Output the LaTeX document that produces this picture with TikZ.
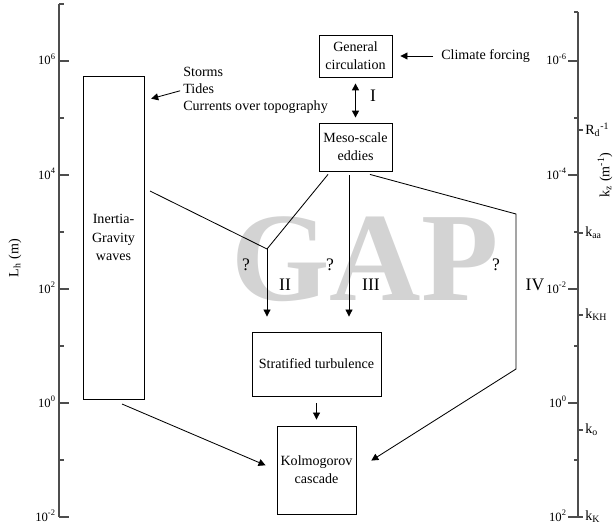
\documentclass[tikz,border=0pt]{standalone}
\usepackage{fontspec}
\setmainfont{Liberation Serif}
\usetikzlibrary{arrows.meta, positioning, calc}
\definecolor{axisgray}{HTML}{4D4D4D}
\definecolor{markgray}{HTML}{D3D3D3}

\begin{document}
\begin{tikzpicture}[
    x=0.025cm, y=-0.025cm,
    >={Triangle[length=5pt, width=5pt]},
    box/.style={rectangle, draw, line width=0.6pt, align=center, inner sep=1pt, font=\fontsize{10}{13}\selectfont},
    txt/.style={inner sep=0pt, align=left, font=\fontsize{10}{12}\selectfont},
    roman/.style={inner sep=0pt, font=\fontsize{12.5}{14}\selectfont},
    axis/.style={draw=axisgray, line width=0.9pt},
    ticklbl/.style={inner sep=0pt, anchor=base east, font=\fontsize{9}{10}\selectfont},
    klbl/.style={inner sep=0pt, anchor=west, font=\fontsize{10}{12}\selectfont},
    flow/.style={line width=0.6pt}
]
\useasboundingbox (0,0) rectangle (615,531);

% Watermark
\node[anchor=base, text=markgray, inner sep=0pt, font=\fontsize{90}{90}\selectfont\bfseries] (mark) at (365,300) {GAP};

% Left axis
\draw[axis] (59,4) -- (59,517);
\foreach \i in {-1,...,8} {
  \pgfmathtruncatemacro{\ypos}{61+57*\i}
  \ifodd\i
    \draw[axis] (59,\ypos) -- (64,\ypos);
  \else
    \pgfmathtruncatemacro{\ex}{6-\i}
    \draw[axis] (59,\ypos) -- (69,\ypos);
    \node[ticklbl] (l\i) at (56,\ypos+4) {10\textsuperscript{\ex}};
  \fi
}
\node[rotate=90, inner sep=0pt, font=\fontsize{10}{12}\selectfont] (lh) at (15,258) {L\textsubscript{h} (m)};

% Right axis
\draw[axis] (578,12) -- (578,517);
\draw[axis] (574,12) -- (578,12);
\foreach \i in {0,...,8} {
  \pgfmathtruncatemacro{\ypos}{61+57*\i}
  \ifodd\i
    \draw[axis] (574,\ypos) -- (578,\ypos);
  \else
    \pgfmathtruncatemacro{\ex}{\i-6}
    \draw[axis] (568,\ypos) -- (578,\ypos);
    \node[ticklbl] (r\i) at (567,\ypos+4) {10\textsuperscript{\ex}};
  \fi
}
\foreach \y/\name/\txt in {130/rd/R\textsubscript{d}\textsuperscript{-1}, 233/kaa/k\textsubscript{aa}, 315/kkh/k\textsubscript{KH}, 430/ko/k\textsubscript{o}, 517/kk/k\textsubscript{K}} {
  \draw[axis] (578,\y) -- (583,\y);
  \node[klbl] (\name) at (585,\y) {\txt};
}
\node[rotate=90, inner sep=0pt, font=\fontsize{10}{12}\selectfont] (kz) at (605,175) {k\textsubscript{z} (m\textsuperscript{-1})};

% Boxes
\node[box, minimum width=1.525cm, minimum height=8.075cm] (igw) at (113.5,237.5) {Inertia-\\Gravity\\waves};
\node[box, minimum width=1.825cm, minimum height=1.05cm] (gen) at (355.5,56) {General\\circulation};
\node[box, minimum width=1.825cm, minimum height=1.2cm] (meso) at (355.5,147) {Meso-scale\\eddies};
\node[box, minimum width=3.225cm, minimum height=1.6cm] (strat) at (316.5,364) {Stratified turbulence};
\node[box, minimum width=1.975cm, minimum height=2.2cm] (kolm) at (316.5,470) {Kolmogorov\\cascade};

% Forcing texts
\node[txt, anchor=west] (clim) at (441,56) {Climate forcing};
\node[txt, anchor=west] (forc) at (183,90) {Storms\\Tides\\Currents over topography};

% Bend points
\coordinate (igwout) at (150,191);
\coordinate (igwbot) at (122,404);
\coordinate (junc) at (267,249);
\coordinate (bend1) at (516,214);
\coordinate (bend2) at (516,369);
\coordinate (m1) at ($(meso.south)+(-27.5,3)$);
\coordinate (m2) at ($(meso.south)+(-6.5,4)$);
\coordinate (m3) at ($(meso.south)+(14.5,3)$);

% Connections
\draw[->, flow, shorten <=0.2cm, shorten >=0.2cm] (clim.west) -- (gen.east);
\draw[<->, line width=1pt, shorten <=0.15cm, shorten >=0.125cm] (gen.south) -- (meso.north);
\draw[->, flow, shorten <=0.075cm, shorten >=0.175cm] (forc.west) -- ($(igw.north east)+(0,25)$);

\draw[flow] (igwout) -- (junc);
\draw[flow] (m1) -- (junc);
\draw[->, flow, shorten >=0.375cm] (junc) -- (junc |- strat.north);
\draw[->, flow, shorten >=0.375cm] (m2) -- (m2 |- strat.north);
\draw[->, flow, shorten >=0.44cm] (m3) -- (bend1) -- (bend2) -- (kolm.east);
\draw[->, flow, shorten >=0.3cm] (igwbot) -- (kolm.west);
\draw[->, flow, shorten <=0.175cm, shorten >=0.15cm] (strat.south) -- (kolm.north);

% Regime labels
\node[roman] (n1) at (373,96) {I};
\node[roman] (q1) at (246,265) {?};
\node[roman] (q2) at (330,265) {?};
\node[roman] (q3) at (496,265) {?};
\node[roman] (n2) at (285,285) {II};
\node[roman] (n3) at (371,285) {III};
\node[roman] (n4) at (535,285) {IV};

\end{tikzpicture}
\end{document}
